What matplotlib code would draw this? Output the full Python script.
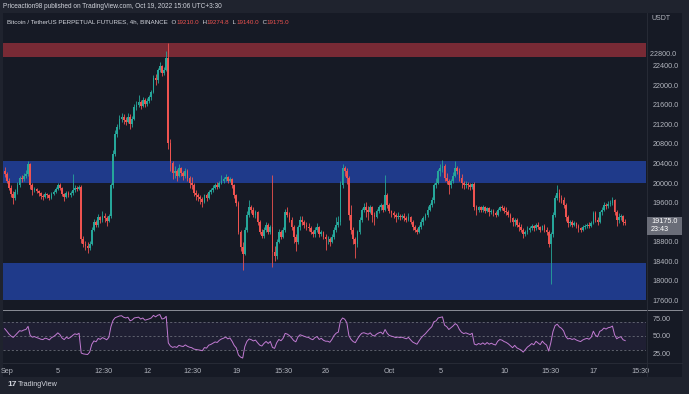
import numpy as np
import matplotlib
matplotlib.use("Agg")
import matplotlib.pyplot as plt
from matplotlib.patches import Rectangle
from matplotlib.lines import Line2D
from matplotlib.offsetbox import TextArea, HPacker, AnchoredOffsetbox

plt.rcParams['font.family'] = ['Liberation Sans', 'DejaVu Sans']

W, H = 689, 394

#---------data: BTCUSDT perp, 4h candles, time in days from Sep 1 00:00 (UTC+3:30)------
first_candle = -4.5 / 24   # Aug 31 19:30
first_open = 20250

closes = [
    20180, 20050,                                  # Aug 31
    19900, 19780, 19700, 19820, 19960, 20100,      # Sep 1
    20080, 20150, 20180, 20380, 19950, 19850,
    19880, 19830, 19790, 19740, 19720, 19780,
    19750, 19700, 19780, 19820, 19880, 19960,
    19900, 19780, 19720, 19800, 19750, 19790,      # Sep 5
    19850, 19900, 19880, 19920, 18850, 18750,
    18720, 18680, 18760, 19050, 19200, 19150,
    19300, 19250, 19330, 19280, 19220, 19320,
    19950, 20600, 21000, 21150, 21300, 21350,
    21280, 21250, 21350, 21200, 21300, 21550,      # Sep 10
    21600, 21650, 21580, 21700, 21620, 21680,
    21750, 21850, 22150, 22100, 22300, 22400,
    22250, 22300, 22550, 20820, 20400, 20200,
    20250, 20150, 20300, 20200, 20150, 20250,
    20100, 20000, 19950, 19800, 19750, 19720,      # Sep 15
    19680, 19620, 19750, 19700, 19820, 19850,
    19900, 19950, 19920, 20000, 20050, 20080,
    20120, 20050, 20080, 19950, 19750, 19600,
    19000, 18700, 18550, 19050, 19350, 19500,
    19450, 19350, 19400, 19200, 19000, 18920,      # Sep 20
    19050, 19150, 19000, 19100, 18600, 18500,
    18800, 19000, 18900, 19050, 19400, 19350,
    19250, 19100, 18900, 18800, 19100, 19250,
    19200, 19150, 19100, 19080, 19000, 18950,
    19050, 19100, 18950, 19000, 18900, 18850,      # Sep 25
    18850, 18800, 18900, 19050, 19150, 19200,
    19950, 20300, 20250, 20100, 19350, 19050,
    18850, 18750, 19000, 19250, 19450, 19500,
    19450, 19400, 19500, 19350, 19300, 19420,
    19500, 19550, 19450, 19750, 19550, 19420,      # Sep 30
    19380, 19350, 19300, 19330, 19300, 19320,      # Oct 1
    19280, 19250, 19300, 19200, 19100, 19050,
    19000, 19100, 19200, 19280, 19350, 19450,
    19550, 19650, 19950, 20000, 20250, 20300,
    20350, 20100, 20050, 19950, 20050, 20150,      # Oct 5
    20300, 20250, 20100, 20000, 19950, 19980,
    19950, 19920, 19970, 19500, 19450, 19500,
    19450, 19500, 19420, 19480, 19400, 19430,
    19380, 19350, 19450, 19500, 19480, 19430,
    19400, 19350, 19280, 19200, 19250, 19150,      # Oct 10
    19100, 19050, 18950, 19000, 19050, 19080,
    19120, 19080, 19150, 19100, 19050, 19120,
    19050, 19000, 18750, 18950, 19350, 19700,
    19800, 19700, 19650, 19550, 19300, 19180,
    19200, 19150, 19180, 19120, 19080, 19050,      # Oct 15
    19100, 19130, 19150, 19120, 19180, 19380,
    19250, 19200, 19400, 19450, 19550, 19520,
    19580, 19600, 19650, 19400, 19250, 19300,
    19320, 19210, 19175,                           # Oct 19
]

highs = [
    20320, 20230,
    20110, 19950, 19830, 19870, 20020, 20150,
    20160, 20210, 20260, 20440, 20400, 19990,
    19920, 19900, 19860, 19820, 19780, 19820,
    19800, 19770, 19810, 19860, 19920, 20010,
    20000, 19920, 19800, 19840, 19830, 19830,
    20180, 19950, 19940, 19960, 19950, 18920,
    18810, 18790, 18820, 19100, 19260, 19240,
    19360, 19330, 19420, 19380, 19320, 19360,
    20000, 20680, 21080, 21200, 21380, 21420,
    21400, 21350, 21430, 21400, 21360, 21620,
    21680, 21800, 21700, 21760, 21740, 21740,
    21800, 21900, 22200, 22220, 22350, 22470,
    22420, 22360, 22700, 22860, 20900, 20450,
    20350, 20280, 20380, 20330, 20250, 20310,
    20280, 20150, 20130, 19990, 19850, 19790,
    19760, 19720, 19780, 19800, 19860, 19900,
    19950, 20000, 20020, 20040, 20170, 20120,
    20180, 20140, 20130, 20100, 19980, 19780,
    19640, 19050, 18800, 19100, 19420, 19650,
    19560, 19500, 19440, 19420, 19250, 19060,
    19100, 19200, 19180, 19150, 20160, 18720,
    18850, 19060, 19050, 19100, 19460, 19500,
    19400, 19300, 19150, 18950, 19150, 19330,
    19320, 19250, 19200, 19180, 19120, 19050,
    19100, 19180, 19120, 19050, 19020, 18950,
    18920, 18900, 18960, 19100, 19300, 19320,
    20050, 20390, 20340, 20300, 20150, 19550,
    19100, 18900, 19050, 19300, 19480, 19600,
    19620, 19520, 19560, 19540, 19400, 19470,
    19560, 19600, 19580, 20160, 19800, 19590,
    19450, 19420, 19380, 19400, 19360, 19360,
    19380, 19320, 19390, 19330, 19250, 19150,
    19080, 19150, 19260, 19320, 19380, 19520,
    19600, 19720, 20000, 20100, 20290, 20380,
    20470, 20380, 20200, 20080, 20090, 20220,
    20450, 20350, 20300, 20180, 20050, 20040,
    20020, 19990, 20000, 20020, 19560, 19540,
    19520, 19550, 19530, 19510, 19500, 19460,
    19460, 19420, 19480, 19540, 19550, 19520,
    19500, 19450, 19380, 19300, 19280, 19280,
    19200, 19160, 19080, 19050, 19120, 19130,
    19160, 19150, 19180, 19200, 19130, 19150,
    19160, 19100, 19050, 19000, 19400, 19760,
    19950, 19880, 19760, 19720, 19600, 19350,
    19250, 19240, 19220, 19200, 19160, 19100,
    19140, 19170, 19180, 19200, 19220, 19420,
    19420, 19300, 19430, 19500, 19620, 19600,
    19640, 19660, 19710, 19680, 19440, 19380,
    19360, 19350, 19274.8,
]

lows = [
    20120, 19990,
    19850, 19720, 19580, 19650, 19780, 19920,
    20020, 20040, 20100, 20150, 19880, 19760,
    19810, 19790, 19740, 19680, 19650, 19700,
    19700, 19650, 19680, 19750, 19800, 19860,
    19860, 19740, 19640, 19700, 19710, 19720,
    19760, 19820, 19840, 19850, 18780, 18700,
    18640, 18560, 18630, 18740, 19010, 19100,
    19110, 19180, 19200, 19210, 19120, 19200,
    19290, 19900, 20550, 20950, 21100, 21250,
    21200, 21180, 21220, 21100, 21150, 21280,
    21500, 21560, 21520, 21560, 21560, 21580,
    21640, 21700, 21830, 22000, 22050, 22260,
    22180, 22200, 22280, 20700, 20250, 20080,
    20100, 20050, 20120, 20140, 20060, 20100,
    20040, 19900, 19880, 19740, 19650, 19640,
    19580, 19500, 19600, 19640, 19680, 19780,
    19820, 19870, 19870, 19900, 19980, 20010,
    20040, 20000, 20020, 19900, 19700, 19520,
    18950, 18620, 18220, 18520, 19000, 19300,
    19390, 19300, 19280, 19150, 18950, 18880,
    18870, 19000, 18950, 18960, 18280, 18400,
    18450, 18780, 18860, 18880, 19000, 19300,
    19200, 19050, 18780, 18620, 18760, 19050,
    19150, 19080, 19040, 19020, 18960, 18900,
    18900, 19000, 18900, 18910, 18850, 18640,
    18750, 18720, 18770, 18860, 19000, 19100,
    19150, 19900, 20150, 19980, 19250, 18950,
    18750, 18470, 18700, 18950, 19200, 19400,
    19300, 19250, 19380, 19200, 19150, 19280,
    19380, 19450, 19400, 19430, 19480, 19380,
    19300, 19280, 19200, 19270, 19250, 19260,
    19220, 19200, 19230, 19160, 19050, 18990,
    18950, 18970, 19060, 19150, 19240, 19300,
    19420, 19500, 19600, 19900, 19970, 20150,
    20230, 20050, 19980, 19780, 19900, 20000,
    20120, 20180, 20050, 19900, 19880, 19900,
    19880, 19860, 19880, 19450, 19350, 19400,
    19400, 19410, 19380, 19400, 19330, 19370,
    19330, 19300, 19330, 19420, 19440, 19380,
    19350, 19300, 19200, 19120, 19130, 19100,
    19020, 18990, 18880, 18910, 18960, 19000,
    19040, 19020, 19050, 19060, 19000, 19030,
    19000, 18940, 18700, 17930, 18900, 19300,
    19650, 19620, 19600, 19480, 19220, 19100,
    19130, 19100, 19120, 19080, 19000, 18990,
    19020, 19060, 19090, 19080, 19100, 19160,
    19200, 19140, 19190, 19350, 19420, 19460,
    19480, 19520, 19560, 19350, 19120, 19180,
    19240, 19150, 19140,
]

# closes before the visible window, only used to warm up the RSI
rsi_seed = [19550, 19600, 19700, 19850, 20050, 20200, 20250, 20150, 20050,
            20400, 20300, 19850, 19750, 19900, 20050, 20300, 20200, 20300]

red_zone = (22570, 22855)
blue_zone_hi = (20000, 20450)
blue_zone_lo = (17600, 18370)

price_ticks = [17600, 18000, 18400, 18800, 19600, 20000, 20400, 20800,
               21200, 21600, 22000, 22400]
rsi_ticks = [25, 50, 75]
time_ticks = [0, 4, 7 + 12.5/24, 11, 14 + 12.5/24, 18, 21 + 15.5/24, 25, 30, 34, 39,
              42 + 15.5/24, 46, 49 + 15.5/24]
time_labels = ['Sep', '5', '12:30', '12', '12:30', '19', '15:30', '26', 'Oct', '5',
               '10', '15:30', '17', '15:30']

UP = '#26a69a'
DOWN = '#ef5350'
TXT = '#b2b5be'
PANE = '#161a25'


def px(x0, y0, x1, y1):
    return [x0/W, 1 - y1/H, (x1 - x0)/W, (y1 - y0)/H]


def rsi(values, n=14):
    d = np.diff(values)
    up = np.where(d > 0, d, 0.0)
    dn = np.where(d < 0, -d, 0.0)
    out = np.full(len(values), np.nan)
    au, ad = up[:n].mean(), dn[:n].mean()
    out[n] = 100 - 100/(1 + au/ad)
    for i in range(n, len(d)):
        au = (au*(n - 1) + up[i])/n
        ad = (ad*(n - 1) + dn[i])/n
        out[i + 1] = 100 - 100/(1 + au/ad)
    return out


c = np.array(closes, float)
hi = np.array(highs, float)
lo = np.array(lows, float)
o = np.r_[first_open, c[:-1]]
hi = np.maximum(hi, np.maximum(o, c))
lo = np.minimum(lo, np.minimum(o, c))
t = first_candle + np.arange(len(c))/6
col = np.where(c >= o, UP, DOWN)

fig = plt.figure(figsize=(W/100, H/100), dpi=100)
fig.patch.set_facecolor('#1f232e')
fig.add_artist(Rectangle((3/W, 1 - 377/H), 679/W, 364/H, transform=fig.transFigure,
                         facecolor=PANE, edgecolor='none', zorder=0))

#---------price pane------
ax = fig.add_axes(px(3, 13, 646, 309))
ax.set_facecolor(PANE)
for lo_, hi_, cc in [(*red_zone, '#782a35'), (*blue_zone_hi, '#1f3a8a'), (*blue_zone_lo, '#1f3a8a')]:
    ax.axhspan(lo_, hi_, color=cc, lw=0, zorder=1)
ax.vlines(t, lo, hi, colors=col, lw=0.6, zorder=2)
body = np.maximum(np.abs(c - o), 8)
ax.bar(t, body, bottom=np.minimum(o, c), width=0.13, color=col, lw=0, zorder=3)
ax.set_xlim(-0.32, 50.11)
ax.set_ylim(17426, 23473)
ax.set_xticks([])
ax.yaxis.tick_right()
ax.set_yticks(price_ticks)
ax.set_yticklabels([f'{v:.1f}' for v in price_ticks])
ax.tick_params(axis='y', length=0, pad=4.5, labelsize=5.2, labelcolor=TXT)
for s in ax.spines.values():
    s.set_visible(False)
ax.text(1.0, 22620, '  22800.0', transform=ax.get_yaxis_transform(), fontsize=5.2,
        color=TXT, va='center', ha='left', clip_on=False)

#---------rsi pane------
rax = fig.add_axes(px(3, 310, 646, 362))
rax.set_facecolor(PANE)
r = rsi(np.r_[rsi_seed, c])[len(rsi_seed):]
rax.axhspan(30, 70, color='#7e57c2', alpha=0.09, lw=0)
for lvl in (30, 50, 70):
    rax.axhline(lvl, color='#787b86', lw=0.5, dashes=(3, 3))
rax.plot(t, r, color='#c27bd3', lw=0.7)
rax.set_xlim(ax.get_xlim())
rax.set_ylim(12, 88)
rax.yaxis.tick_right()
rax.set_yticks(rsi_ticks)
rax.set_yticklabels([f'{v:.2f}' for v in rsi_ticks])
rax.tick_params(axis='y', length=0, pad=4.5, labelsize=5.2, labelcolor=TXT)
rax.set_xticks(time_ticks)
rax.set_xticklabels(time_labels)
rax.tick_params(axis='x', length=0, pad=4, labelsize=5.2, labelcolor=TXT)
for s in rax.spines.values():
    s.set_visible(False)

#---------separators------
fig.add_artist(Line2D([3/W, 682/W], [1 - 309.5/H]*2, color='#8a8d96', lw=0.7))
fig.add_artist(Line2D([3/W, 682/W], [1 - 362.5/H]*2, color='#2a2e39', lw=0.6))
fig.add_artist(Line2D([646.5/W]*2, [1 - 376/H, 1 - 13/H], color='#2a2e39', lw=0.6))

#---------texts------
fig.text(3/W, 1 - 6/H, 'Priceaction98 published on TradingView.com, Oct 19, 2022 15:06 UTC+3:30',
         fontsize=4.7, color='#d1d4dc', va='center')
parts = [('Bitcoin / TetherUS PERPETUAL FUTURES, 4h, BINANCE', '#d1d4dc'), ('  O', '#d1d4dc'),
         ('19210.0', DOWN), ('  H', '#d1d4dc'), ('19274.8', DOWN), ('  L', '#d1d4dc'),
         ('19140.0', DOWN), ('  C', '#d1d4dc'), ('19175.0', DOWN)]
pack = HPacker(children=[TextArea(s, textprops=dict(color=cc, size=4.5)) for s, cc in parts],
               pad=0, sep=0)
fig.add_artist(AnchoredOffsetbox(loc='center left', child=pack, pad=0, borderpad=0, frameon=False,
                                 bbox_to_anchor=(7/W, 1 - 22/H), bbox_transform=fig.transFigure))
fig.text(652/W, 1 - 19/H, 'USDT', fontsize=5, color=TXT, va='center')

# last price label with the candle countdown
yl = fig.transFigure.inverted().transform(ax.transData.transform((0, c[-1])))[1]
fig.add_artist(Rectangle((647/W, yl - 12/H), 35/W, 18/H, transform=fig.transFigure,
                         facecolor='#6a6d78', edgecolor='none', zorder=5))
fig.text(651/W, yl + 1.5/H, f'{c[-1]:.1f}', fontsize=5.2, color='white', va='center', zorder=6)
fig.text(651/W, yl - 6.5/H, '23:43', fontsize=5.2, color='white', va='center', zorder=6)

fig.text(7/W, 1 - 385/H, '17', fontsize=6, color='#d1d4dc', weight='bold', va='center')
fig.text(18/W, 1 - 385/H, 'TradingView', fontsize=5.2, color='#d1d4dc', va='center')

fig.savefig('out.png', dpi=100, facecolor=fig.get_facecolor())
